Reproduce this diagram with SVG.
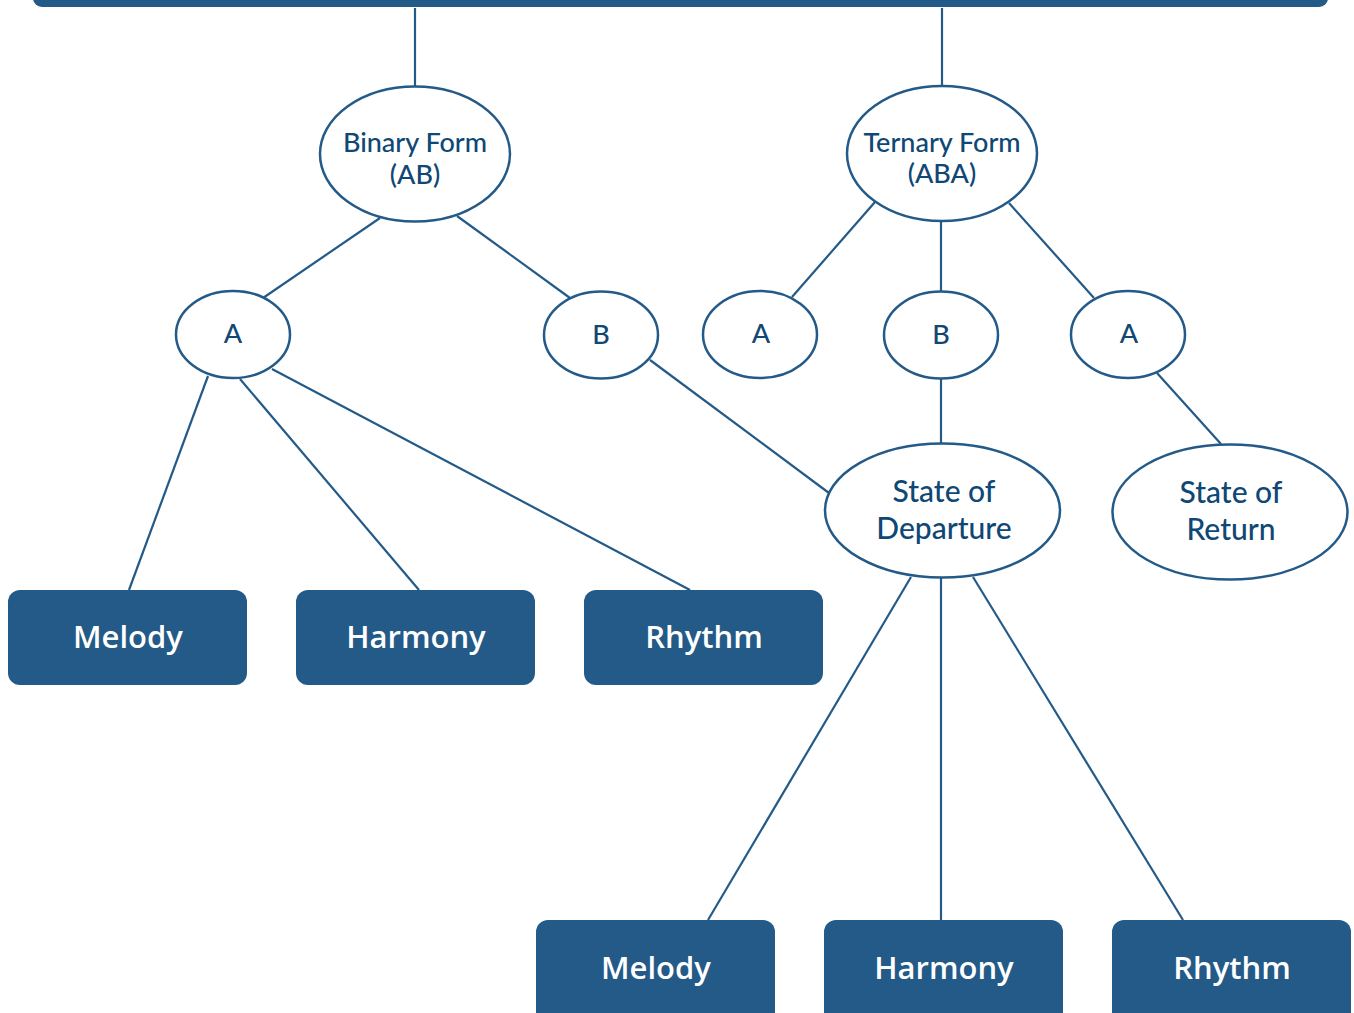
<svg xmlns="http://www.w3.org/2000/svg" width="1354" height="1013" viewBox="0 0 1354 1013">
<style>
.bg{fill:#ffffff}
.conn line{stroke:#235a87;stroke-width:2.2;fill:none}
.ell{fill:#ffffff;stroke:#235a87;stroke-width:2.5}
.box{fill:#235a87}
.et{font-family:Lato,"Open Sans","Liberation Sans",sans-serif;fill:#0f4775;text-anchor:middle;font-weight:500}
.bt{font-family:"Open Sans","Noto Sans","Liberation Sans",sans-serif;fill:#ffffff;text-anchor:middle;font-weight:600;font-size:31px}
</style>
<rect class="bg" x="0" y="0" width="1354" height="1013"/>
<g id="top-bar"><rect class="box" x="33" y="-30" width="1295" height="37" rx="9"/></g>
<g id="connectors" class="conn">
<line x1="415" y1="8" x2="415" y2="87"/>
<line x1="942" y1="8" x2="942" y2="87"/>
<line x1="380" y1="218" x2="263" y2="298"/>
<line x1="457" y1="216" x2="570" y2="298"/>
<line x1="875" y1="202" x2="792" y2="297"/>
<line x1="941" y1="221" x2="941" y2="291"/>
<line x1="1009" y1="203" x2="1094" y2="298"/>
<line x1="208" y1="376" x2="129" y2="590"/>
<line x1="240" y1="379" x2="419" y2="590"/>
<line x1="272" y1="369" x2="690" y2="590"/>
<line x1="650" y1="360" x2="829" y2="493"/>
<line x1="941" y1="379" x2="941" y2="443"/>
<line x1="1157" y1="373" x2="1221" y2="444"/>
<line x1="911" y1="577" x2="708" y2="920"/>
<line x1="941" y1="578" x2="941" y2="920"/>
<line x1="973" y1="577" x2="1183" y2="920"/>
</g>
<g id="binary-form"><ellipse class="ell" cx="415" cy="154" rx="95" ry="67.5"/><text class="et" font-size="27" x="415" y="152">Binary Form</text><text class="et" font-size="27" x="415" y="184">(AB)</text></g>
<g id="ternary-form"><ellipse class="ell" cx="942" cy="153.5" rx="95" ry="67.5"/><text class="et" font-size="27" x="942" y="152">Ternary Form</text><text class="et" font-size="27" x="942" y="183">(ABA)</text></g>
<g id="binary-a"><ellipse class="ell" cx="233" cy="334.5" rx="57" ry="43.5"/><text class="et" font-size="27" x="233" y="343">A</text></g>
<g id="binary-b"><ellipse class="ell" cx="601" cy="335" rx="57" ry="43.5"/><text class="et" font-size="27" x="601" y="344">B</text></g>
<g id="ternary-a1"><ellipse class="ell" cx="760" cy="334.5" rx="57" ry="43.5"/><text class="et" font-size="27" x="761" y="343">A</text></g>
<g id="ternary-b"><ellipse class="ell" cx="941" cy="335" rx="57" ry="43.5"/><text class="et" font-size="27" x="941" y="344">B</text></g>
<g id="ternary-a2"><ellipse class="ell" cx="1128" cy="334.5" rx="57" ry="43.5"/><text class="et" font-size="27" x="1129" y="343">A</text></g>
<g id="state-departure"><ellipse class="ell" cx="942.5" cy="510.5" rx="117.5" ry="67"/><text class="et" font-size="30" x="944" y="502">State of</text><text class="et" font-size="30" x="944" y="539">Departure</text></g>
<g id="state-return"><ellipse class="ell" cx="1230" cy="512" rx="117.5" ry="67.5"/><text class="et" font-size="30" x="1231" y="503">State of</text><text class="et" font-size="30" x="1231" y="540">Return</text></g>
<g id="melody-1"><rect class="box" x="8" y="590" width="239" height="95" rx="12"/><text class="bt" x="128" y="648">Melody</text></g>
<g id="harmony-1"><rect class="box" x="296" y="590" width="239" height="95" rx="12"/><text class="bt" x="416" y="648">Harmony</text></g>
<g id="rhythm-1"><rect class="box" x="584" y="590" width="239" height="95" rx="12"/><text class="bt" x="704" y="648">Rhythm</text></g>
<g id="melody-2"><rect class="box" x="536" y="920" width="239" height="108" rx="12"/><text class="bt" x="656" y="979">Melody</text></g>
<g id="harmony-2"><rect class="box" x="824" y="920" width="239" height="108" rx="12"/><text class="bt" x="944" y="979">Harmony</text></g>
<g id="rhythm-2"><rect class="box" x="1112" y="920" width="239" height="108" rx="12"/><text class="bt" x="1232" y="979">Rhythm</text></g>
</svg>
